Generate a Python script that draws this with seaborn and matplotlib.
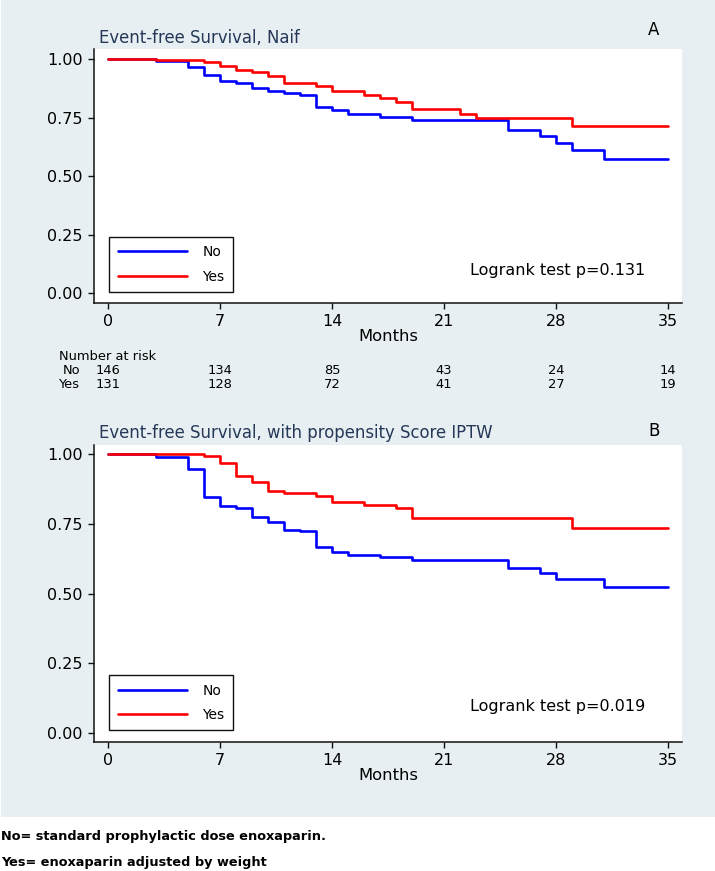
import pandas as pd
import matplotlib
matplotlib.use("Agg")
import matplotlib.pyplot as plt
import matplotlib.patches as patches
import seaborn as sns

# survival steps (months, survival)
a_no_month = [0, 3, 5, 6, 7, 8, 9, 10, 11, 12, 13, 14, 15, 17, 19, 25, 27, 28, 29, 31, 35]
a_no_surv = [1.0, 0.993, 0.967, 0.933, 0.907, 0.898, 0.876, 0.864, 0.855, 0.847, 0.794,
             0.785, 0.764, 0.754, 0.740, 0.697, 0.672, 0.642, 0.612, 0.574, 0.574]
a_yes_month = [0, 3, 6, 7, 8, 9, 10, 11, 13, 14, 16, 17, 18, 19, 22, 23, 29, 35]
a_yes_surv = [1.0, 0.995, 0.987, 0.971, 0.956, 0.946, 0.927, 0.899, 0.886, 0.863, 0.849,
              0.834, 0.819, 0.788, 0.767, 0.747, 0.715, 0.715]

b_no_month = [0, 3, 5, 6, 7, 8, 9, 10, 11, 12, 13, 14, 15, 17, 19, 25, 27, 28, 31, 35]
b_no_surv = [1.0, 0.988, 0.947, 0.847, 0.815, 0.808, 0.773, 0.756, 0.729, 0.723, 0.667,
             0.648, 0.639, 0.631, 0.620, 0.593, 0.575, 0.552, 0.522, 0.522]
b_yes_month = [0, 6, 7, 8, 9, 10, 11, 13, 14, 16, 18, 19, 29, 35]
b_yes_surv = [1.0, 0.993, 0.969, 0.921, 0.898, 0.869, 0.861, 0.851, 0.828, 0.817, 0.806,
              0.772, 0.736, 0.736]

risk_month = [0, 7, 14, 21, 28, 35]
risk_no = [146, 134, 85, 43, 24, 14]
risk_yes = [131, 128, 72, 41, 27, 19]

xticks = [0, 7, 14, 21, 28, 35]
yticks = [0, 0.25, 0.5, 0.75, 1.0]

sns.set_style("ticks")
plt.rcParams['font.family'] = ['DejaVu Sans']
plt.rcParams['text.color'] = 'black'
plt.rcParams['axes.labelcolor'] = 'black'
plt.rcParams['xtick.color'] = 'black'
plt.rcParams['ytick.color'] = 'black'

W, H = 715, 871
fig = plt.figure(figsize=(W / 100, H / 100), dpi=100)
fig.patch.set_facecolor("white")
bg = patches.Rectangle((1 / W, 1 - 817 / H), 714 / W, 817 / H, transform=fig.transFigure,
                       facecolor="#E8EFF2", edgecolor="none", zorder=-1)
fig.patches.append(bg)

palette = {"No": "#0000FF", "Yes": "#FF0000"}
title_col = "#253858"


def km_panel(ax, no_m, no_s, yes_m, yes_s, ylim, logrank):
    df = pd.concat([
        pd.DataFrame({"month": no_m, "surv": no_s, "group": "No"}),
        pd.DataFrame({"month": yes_m, "surv": yes_s, "group": "Yes"}),
    ])
    sns.lineplot(data=df, x="month", y="surv", hue="group", palette=palette,
                 estimator=None, drawstyle="steps-post", linewidth=1.9, ax=ax, legend=False)
    ax.set_facecolor("white")
    ax.set_xlim(-0.875, 35.875)
    ax.set_ylim(*ylim)
    ax.set_xticks(xticks)
    ax.set_yticks(yticks)
    ax.set_yticklabels([f"{v:.2f}" for v in yticks])
    ax.set_ylabel("")
    ax.set_xlabel("Months", fontsize=11.8, labelpad=0)
    for s in ["top", "right"]:
        ax.spines[s].set_visible(False)
    for s in ["left", "bottom"]:
        ax.spines[s].set_linewidth(1.1)
        ax.spines[s].set_color("#111111")
    ax.tick_params(axis="both", direction="out", length=4, width=1, labelsize=11.5,
                   color="#111111", labelcolor="black")
    ax.tick_params(axis="x", pad=4)
    ax.tick_params(axis="y", pad=4)
    leg = ax.legend(ax.lines[:2], ["No", "Yes"], loc="lower left",
                    bbox_to_anchor=(0.014, 0.016), fontsize=10, handlelength=5.0,
                    handletextpad=1.1, labelspacing=0.75, borderpad=0.6,
                    fancybox=False, framealpha=1, edgecolor="#111111")
    leg.get_frame().set_linewidth(1.0)
    ax.text(22.6, 0.095, logrank, fontsize=11.5, ha="left", va="center")


# panel A
axA = fig.add_axes([94 / W, 1 - 303 / H, 588 / W, 254 / H])
km_panel(axA, a_no_month, a_no_surv, a_yes_month, a_yes_surv, (-0.0428, 1.0441),
         "Logrank test p=0.131")
fig.text(99 / W, 1 - 38 / H, "Event-free Survival, Naif", fontsize=11.9,
         color=title_col, ha="left", va="center")
fig.text(654 / W, 1 - 30 / H, "A", fontsize=12, ha="center", va="center")

# number at risk table under panel A
tr = axA.get_xaxis_transform()
axA.text(-3.06, (303 - 356) / 254, "Number at risk", fontsize=9.4, ha="left",
         va="center", transform=tr, clip_on=False)
axA.text(-1.75, (303 - 370) / 254, "No", fontsize=9.4, ha="right", va="center",
         transform=tr, clip_on=False)
axA.text(-1.75, (303 - 385) / 254, "Yes", fontsize=9.4, ha="right", va="center",
         transform=tr, clip_on=False)
for m, n_no, n_yes in zip(risk_month, risk_no, risk_yes):
    axA.text(m, (303 - 370) / 254, str(n_no), fontsize=9.4, ha="center", va="center",
             transform=tr, clip_on=False)
    axA.text(m, (303 - 385) / 254, str(n_yes), fontsize=9.4, ha="center", va="center",
             transform=tr, clip_on=False)

# panel B
axB = fig.add_axes([94 / W, 1 - 742 / H, 588 / W, 297 / H])
km_panel(axB, b_no_month, b_no_surv, b_yes_month, b_yes_surv, (-0.0323, 1.0323),
         "Logrank test p=0.019")
fig.text(99 / W, 1 - 433 / H, "Event-free Survival, with propensity Score IPTW",
         fontsize=11.9, color=title_col, ha="left", va="center")
fig.text(654 / W, 1 - 431 / H, "B", fontsize=12, ha="center", va="center")

# footnotes
fig.text(1 / W, 1 - 836 / H, "No= standard prophylactic dose enoxaparin.", fontsize=9.3,
         fontweight="bold", ha="left", va="center", color="black")
fig.text(1 / W, 1 - 862 / H, "Yes= enoxaparin adjusted by weight", fontsize=9.3,
         fontweight="bold", ha="left", va="center", color="black")

fig.savefig("out.png", dpi=100)
